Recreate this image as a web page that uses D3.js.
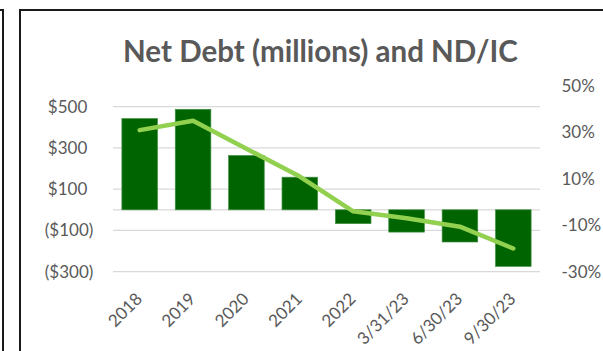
<!DOCTYPE html>
<html>
<head>
<meta charset="utf-8">
<script src="https://cdn.jsdelivr.net/npm/d3@7"></script>
<style>
  body { margin: 0; background: #fff; }
  svg { display: block; }
  text { font-family: Lato, "Open Sans", sans-serif; fill: #595959; }
</style>
</head>
<body>
<svg class="chart"></svg>
<script>
var categories = ['2018', '2019', '2020', '2021', '2022', '3/31/23', '6/30/23', '9/30/23'];
var netDebt = [442, 487, 263, 158, -67, -108, -156, -274];
var ndic = [0.31, 0.35, 0.23, 0.11, -0.04, -0.07, -0.106, -0.20];
var debtTicks = [-300, -100, 100, 300, 500];
var pctTicks = [-0.3, -0.1, 0.1, 0.3, 0.5];

(function() {
  'use strict';
  var W = 603, H = 351;
  var margin = {top: 86, right: 63, bottom: 79.3, left: 113},
      width = W - margin.left - margin.right,
      height = H - margin.top - margin.bottom;

  var svg = d3.select('.chart')
      .attr('width', W)
      .attr('height', H);

  // chart borders (neighbour chart on the left, this one)
  svg.append('path')
      .attr('d', 'M0,10H3V351')
      .attr('fill', 'none')
      .attr('stroke', '#1a1a1a')
      .attr('stroke-width', 2);
  svg.append('path')
      .attr('d', 'M20,351V10H603')
      .attr('fill', 'none')
      .attr('stroke', '#1a1a1a')
      .attr('stroke-width', 2);

  // title
  var title = svg.append('text')
      .attr('x', 320.5)
      .attr('y', 61.5)
      .attr('text-anchor', 'middle')
      .style('font-weight', 'bold')
      .style('font-size', '28px')
      .text('Net Debt (millions) and ND/IC');
  var tl = title.node().getComputedTextLength();
  title.style('font-size', (28 * 395 / tl) + 'px');

  var chart = svg.append('g')
      .attr('transform', 'translate(' + margin.left + ',' + margin.top + ')');

  var x = d3.scaleBand()
      .domain(categories)
      .range([0, width])
      .paddingInner(1 / 3)
      .paddingOuter(1 / 6);

  var y = d3.scaleLinear()
      .domain([-300, 600])
      .range([height, 0]);

  var y2 = d3.scaleLinear()
      .domain([-0.3, 0.5])
      .range([height, 0]);

  // gridlines
  chart.append('g')
      .selectAll('line')
      .data(debtTicks.concat([0]))
    .enter().append('line')
      .attr('x1', 0)
      .attr('x2', width)
      .attr('y1', function(d) { return y(d); })
      .attr('y2', function(d) { return y(d); })
      .attr('stroke', '#d9d9d9')
      .attr('stroke-width', 1.3);

  // left axis
  var yAxis = d3.axisLeft(y)
      .tickValues(debtTicks)
      .tickSize(0)
      .tickPadding(19.7)
      .tickFormat(function(d) { return d < 0 ? '($' + (-d) + ')' : '$' + d; });

  var ga = chart.append('g').call(yAxis);
  ga.select('.domain').remove();
  ga.selectAll('text')
      .attr('fill', '#595959')
      .style('font-size', '17px')
      .style('font-family', 'Lato, "Open Sans", sans-serif')
      .attr('dx', function(d) { return d > 0 ? -6 : 0; });

  // right axis
  var y2Axis = d3.axisRight(y2)
      .tickValues(pctTicks)
      .tickSize(0)
      .tickPadding(21.5)
      .tickFormat(function(d) { return Math.round(d * 100) + '%'; });

  var gb = chart.append('g')
      .attr('transform', 'translate(' + width + ',0)')
      .call(y2Axis);
  gb.select('.domain').remove();
  gb.selectAll('text')
      .attr('fill', '#595959')
      .style('font-size', '17px')
      .style('font-family', 'Lato, "Open Sans", sans-serif');

  // bottom axis
  var xAxis = d3.axisBottom(x).tickSize(0);
  var gx = chart.append('g')
      .attr('transform', 'translate(0,' + height + ')')
      .call(xAxis);
  gx.select('.domain').remove();
  gx.selectAll('text')
      .attr('fill', '#595959')
      .style('font-size', '17px')
      .style('font-family', 'Lato, "Open Sans", sans-serif')
      .attr('x', 0)
      .attr('y', 0)
      .attr('dy', 0)
      .attr('text-anchor', 'end')
      .attr('transform', 'translate(3.5,28.3) rotate(-45)');

  // bars
  chart.selectAll('.bar')
      .data(netDebt)
    .enter().append('rect')
      .attr('class', 'bar')
      .attr('x', function(d, i) { return x(categories[i]); })
      .attr('y', function(d) { return y(Math.max(0, d)); })
      .attr('width', x.bandwidth())
      .attr('height', function(d) { return Math.abs(y(d) - y(0)); })
      .attr('fill', '#006400')
      .attr('stroke', '#3f8f3f')
      .attr('stroke-width', 0.7);

  // ND/IC line
  var line = d3.line()
      .x(function(d, i) { return x(categories[i]) + x.bandwidth() / 2; })
      .y(function(d) { return y2(d); });

  chart.append('path')
      .datum(ndic)
      .attr('d', line)
      .attr('fill', 'none')
      .attr('stroke', '#92d050')
      .attr('stroke-width', 4.5)
      .attr('stroke-linecap', 'round')
      .attr('stroke-linejoin', 'round');
}());
</script>
</body>
</html>
